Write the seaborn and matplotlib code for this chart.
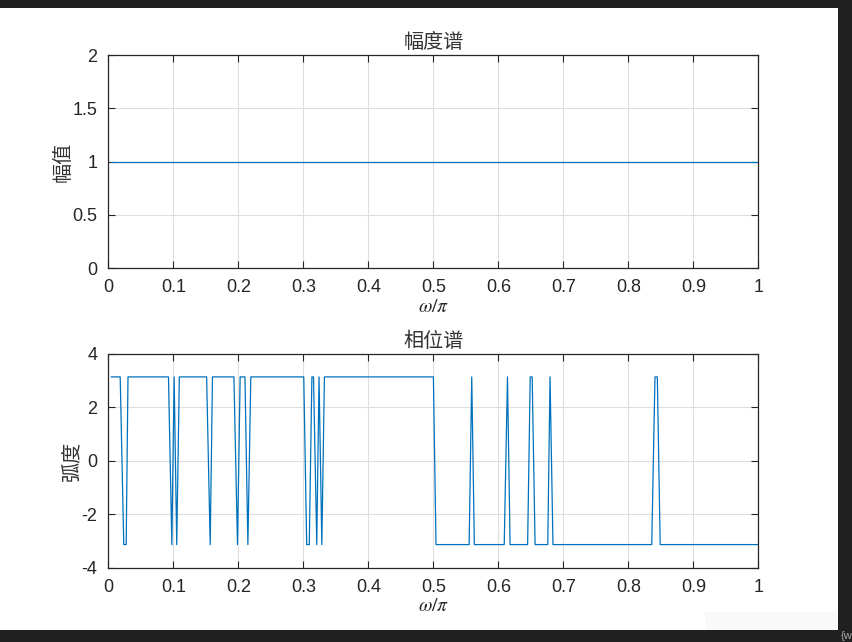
import numpy as np
import pandas as pd
import matplotlib
matplotlib.use("Agg")
import matplotlib.pyplot as plt
import seaborn as sns
from matplotlib.patches import Rectangle

P = np.pi

# magnitude spectrum: flat at 1
mag_w = [0.004, 1.0]
mag_val = [1.0, 1.0]

# phase spectrum vertices (+pi / -pi switching)
phase_w = [0.004, 0.018, 0.0235, 0.0272, 0.030, 0.0923, 0.0975, 0.101, 0.105, 0.109,
           0.151, 0.1565, 0.160, 0.193, 0.1985, 0.2026, 0.210, 0.2145, 0.219,
           0.3005, 0.305, 0.309, 0.313, 0.3155, 0.3205, 0.324, 0.3283, 0.3323,
           0.500, 0.504, 0.555, 0.559, 0.563, 0.609, 0.614, 0.618, 0.645, 0.649,
           0.652, 0.6565, 0.676, 0.6795, 0.684, 0.836, 0.841, 0.8446, 0.849, 1.0]
phase_sign = [1, 1, -1, -1, 1, 1, -1, 1, -1, 1,
              1, -1, 1, 1, -1, 1, 1, -1, 1,
              1, -1, -1, 1, 1, -1, 1, -1, 1,
              1, -1, -1, 1, -1, -1, 1, -1, -1, 1,
              1, -1, -1, 1, -1, -1, 1, 1, -1, -1]

x_ticks = [0, 0.1, 0.2, 0.3, 0.4, 0.5, 0.6, 0.7, 0.8, 0.9, 1]
x_ticklabels = ["0", "0.1", "0.2", "0.3", "0.4", "0.5", "0.6", "0.7", "0.8", "0.9", "1"]
mag_ticks = [0, 0.5, 1, 1.5, 2]
mag_ticklabels = ["0", "0.5", "1", "1.5", "2"]
phase_ticks = [-4, -2, 0, 2, 4]
phase_ticklabels = ["-4", "-2", "0", "2", "4"]

LINE = "#0072BD"
DARK = "#262626"

sns.set_theme(style="ticks")
plt.rcParams['font.family'] = ['Liberation Sans', 'Noto Sans CJK SC', 'DejaVu Sans']
plt.rcParams['mathtext.fontset'] = 'stix'

df_mag = pd.DataFrame({"w": mag_w, "val": mag_val})
df_ph = pd.DataFrame({"w": phase_w, "val": [s * P for s in phase_sign]})

fig = plt.figure(figsize=(8.53, 6.42), dpi=100, facecolor="#202020")
fig.patches.append(Rectangle((0, 12 / 642), 838 / 853, 622 / 642, transform=fig.transFigure,
                             facecolor="white", edgecolor="none", zorder=-10))
fig.patches.append(Rectangle((705 / 853, 12 / 642), 133 / 853, 18 / 642, transform=fig.transFigure,
                             facecolor="#f9f9f9", edgecolor="none", zorder=-9))
fig.text(841 / 853, 6 / 642, "{w", color="#aaaaaa", fontsize=8, va="center", ha="left")

ax1 = fig.add_axes([108.5 / 853, (642 - 268) / 642, 649.8 / 853, 213 / 642])
ax2 = fig.add_axes([108.5 / 853, (642 - 567.5) / 642, 649.8 / 853, 213.5 / 642])

sns.lineplot(data=df_mag, x="w", y="val", ax=ax1, color=LINE, lw=0.9, estimator=None)
sns.lineplot(data=df_ph, x="w", y="val", ax=ax2, color=LINE, lw=0.9, estimator=None, sort=False)


def style(ax, yticks, yticklabels, ylim, title, ylabel):
    ax.set_facecolor("white")
    ax.set_xlim(0, 1)
    ax.set_ylim(*ylim)
    ax.set_xticks(x_ticks)
    ax.set_xticklabels(x_ticklabels)
    ax.set_yticks(yticks)
    ax.set_yticklabels(yticklabels)
    ax.grid(True, color="#dedede", lw=0.8)
    ax.set_axisbelow(True)
    for s in ax.spines.values():
        s.set_visible(True)
        s.set_color(DARK)
        s.set_linewidth(0.9)
    ax.tick_params(direction="in", length=5, width=0.8, colors=DARK, labelsize=13,
                   top=True, right=True, pad=8)
    ax.set_title(title, fontsize=14.5, color="#333333", pad=5)
    ax.set_xlabel(r"$\omega/\pi$", fontsize=14, color=DARK, labelpad=2)
    ax.set_ylabel(ylabel, fontsize=14.5, color="#333333", labelpad=0)


style(ax1, mag_ticks, mag_ticklabels, (0, 2), "幅度谱", "幅值")
style(ax2, phase_ticks, phase_ticklabels, (-4, 4), "相位谱", "弧度")

fig.savefig("out.png", dpi=100, facecolor=fig.get_facecolor())
